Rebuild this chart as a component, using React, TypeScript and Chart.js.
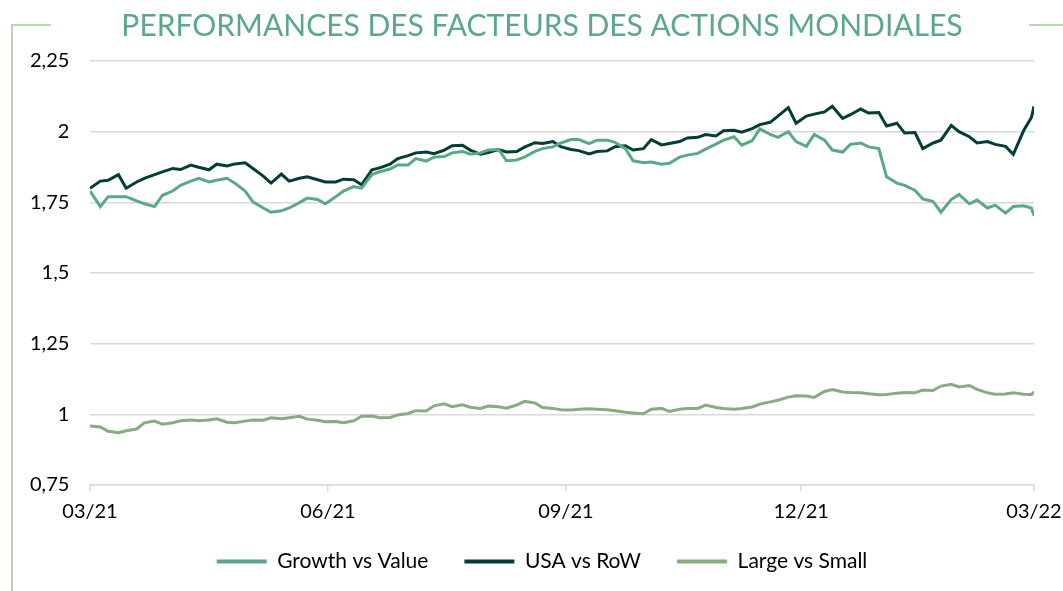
import React, { useEffect, useRef } from 'react';
import { Chart, registerables } from 'chart.js';

Chart.register(...registerables);

const chartTitle = 'PERFORMANCES DES FACTEURS DES ACTIONS MONDIALES';

// day offsets from 01/03/2021
const days = [
  0, 4, 7, 11, 14, 18, 21, 25, 28, 32, 35, 39, 42, 46, 49, 53, 56, 60, 63, 67,
  70, 74, 77, 81, 84, 88, 91, 95, 98, 102, 105, 109, 112, 116, 119, 123, 126, 130, 133, 137,
  140, 144, 147, 151, 154, 158, 161, 165, 168, 172, 175, 179, 182, 186, 189, 193, 196, 200, 203, 207,
  210, 214, 217, 221, 224, 228, 231, 235, 238, 242, 245, 249, 252, 256, 259, 263, 266, 270, 273, 277,
  280, 284, 287, 291, 294, 298, 301, 305, 308, 312, 315, 319, 322, 326, 329, 333, 336, 340, 343, 347,
  350, 354, 357, 361, 364, 365,
];

const growthVsValue = [
  1.79, 1.735, 1.77, 1.77, 1.77, 1.755, 1.745, 1.735, 1.775, 1.79,
  1.81, 1.825, 1.835, 1.822, 1.828, 1.835, 1.818, 1.79, 1.752, 1.73,
  1.715, 1.72, 1.73, 1.749, 1.765, 1.76, 1.745, 1.77, 1.79, 1.806,
  1.8, 1.848, 1.858, 1.868, 1.882, 1.882, 1.905, 1.896, 1.91, 1.912,
  1.925, 1.93, 1.92, 1.925, 1.935, 1.937, 1.897, 1.9, 1.91, 1.93,
  1.94, 1.946, 1.96, 1.972, 1.972, 1.958, 1.97, 1.97, 1.962, 1.94,
  1.897, 1.89, 1.893, 1.885, 1.888, 1.91, 1.917, 1.923, 1.938, 1.956,
  1.97, 1.982, 1.952, 1.968, 2.01, 1.99, 1.98, 2.0, 1.965, 1.948,
  1.99, 1.97, 1.935, 1.928, 1.955, 1.96, 1.946, 1.94, 1.84, 1.818,
  1.81, 1.792, 1.762, 1.753, 1.715, 1.76, 1.778, 1.745, 1.758, 1.73,
  1.74, 1.712, 1.735, 1.738, 1.73, 1.703,
];

const usaVsRow = [
  1.8, 1.825, 1.828, 1.848, 1.8, 1.822, 1.835, 1.848, 1.858, 1.87,
  1.866, 1.882, 1.874, 1.865, 1.885, 1.879, 1.886, 1.89, 1.87, 1.843,
  1.818, 1.85, 1.825, 1.835, 1.84, 1.83, 1.822, 1.822, 1.832, 1.83,
  1.812, 1.865, 1.872, 1.885, 1.905, 1.915, 1.925, 1.928, 1.922, 1.935,
  1.95, 1.952, 1.935, 1.92, 1.926, 1.937, 1.928, 1.93, 1.945, 1.961,
  1.958, 1.965, 1.947, 1.937, 1.933, 1.921, 1.93, 1.932, 1.947, 1.95,
  1.935, 1.94, 1.972, 1.953, 1.958, 1.965, 1.978, 1.98, 1.99, 1.985,
  2.003, 2.005, 1.998, 2.011, 2.025, 2.033, 2.055, 2.085, 2.03, 2.055,
  2.062, 2.07, 2.09, 2.047, 2.06, 2.08, 2.066, 2.068, 2.02, 2.03,
  1.995, 1.997, 1.94, 1.96, 1.97, 2.022, 2.0, 1.982, 1.96, 1.965,
  1.955, 1.948, 1.92, 2.004, 2.05, 2.09,
];

const largeVsSmall = [
  0.959, 0.955, 0.94, 0.935, 0.942, 0.948, 0.97, 0.976, 0.965, 0.97,
  0.977, 0.98, 0.977, 0.98, 0.984, 0.972, 0.97, 0.976, 0.98, 0.979,
  0.988, 0.984, 0.988, 0.993, 0.983, 0.979, 0.974, 0.975, 0.97, 0.977,
  0.993, 0.994, 0.988, 0.989, 0.998, 1.003, 1.013, 1.012, 1.03, 1.037,
  1.027, 1.034, 1.025, 1.021, 1.029, 1.027, 1.022, 1.033, 1.046, 1.04,
  1.024, 1.021, 1.016, 1.015, 1.018, 1.02, 1.018, 1.016, 1.013, 1.007,
  1.005, 1.002, 1.018, 1.021, 1.01, 1.018, 1.021, 1.021, 1.033, 1.024,
  1.021, 1.018, 1.021, 1.026, 1.036, 1.044, 1.05, 1.061, 1.066, 1.065,
  1.06, 1.081, 1.088, 1.079, 1.077, 1.076, 1.073, 1.069, 1.07, 1.075,
  1.077, 1.076, 1.086, 1.084, 1.1, 1.106, 1.097, 1.102, 1.088, 1.076,
  1.071, 1.072, 1.076, 1.071, 1.07, 1.08,
];

const seriesNames = ['Growth vs Value', 'USA vs RoW', 'Large vs Small'];
const seriesColors = ['#5AA888', '#033D38', '#88AC80'];

const xTickDays = [0, 92, 184, 275, 365];
const xTickLabels = ['03/21', '06/21', '09/21', '12/21', '03/22'];
const yTickValues = [0.75, 1, 1.25, 1.5, 1.75, 2, 2.25];
const yTickLabels = ['0,75', '1', '1,25', '1,5', '1,75', '2', '2,25'];

const framePlugin = {
  id: 'frameDecor',
  beforeDraw(chart: any) {
    const ctx = chart.ctx;
    ctx.save();
    ctx.strokeStyle = '#B9D5B3';
    ctx.lineWidth = 2;
    ctx.beginPath();
    ctx.moveTo(51, 25);
    ctx.lineTo(12, 25);
    ctx.lineTo(12, 595);
    ctx.moveTo(1029, 25);
    ctx.lineTo(1066, 25);
    ctx.stroke();
    ctx.restore();
  },
};

export default function App() {
  const canvasRef = useRef<HTMLCanvasElement | null>(null);

  useEffect(() => {
    const canvas = canvasRef.current;
    if (!canvas) return;
    const allSeries = [growthVsValue, usaVsRow, largeVsSmall];
    const chart = new Chart(canvas, {
      type: 'line',
      data: {
        datasets: allSeries.map((vals, k) => ({
          label: seriesNames[k],
          data: vals.map((v, i) => ({ x: days[i], y: v })),
          borderColor: seriesColors[k],
          backgroundColor: seriesColors[k],
          borderWidth: 3,
          pointRadius: 0,
          tension: 0,
          fill: false,
        })),
      },
      options: {
        responsive: false,
        animation: false,
        devicePixelRatio: 1,
        font: { family: 'Lato' },
        layout: { padding: { left: 50, right: 29, top: 0, bottom: 9 } },
        scales: {
          x: {
            type: 'linear',
            min: 0,
            max: 365,
            afterBuildTicks: (scale: any) => {
              scale.ticks = xTickDays.map((v) => ({ value: v }));
            },
            afterFit: (scale: any) => {
              scale.height = 30;
              scale.paddingLeft = 0;
              scale.paddingRight = 0;
            },
            ticks: {
              mirror: true,
              autoSkip: false,
              maxRotation: 0,
              padding: -39,
              color: '#000',
              font: { family: 'Lato', size: 20 },
              callback: (_v: any, i: number) => xTickLabels[i],
            },
            grid: {
              drawOnChartArea: false,
              drawTicks: true,
              tickLength: 6,
              color: '#D9D9D9',
              lineWidth: 1.5,
            },
            border: { display: true, color: '#D9D9D9', width: 1.5 },
          },
          y: {
            type: 'linear',
            min: 0.75,
            max: 2.25,
            afterBuildTicks: (scale: any) => {
              scale.ticks = yTickValues.map((v) => ({ value: v }));
            },
            afterFit: (scale: any) => {
              scale.width = 40;
            },
            ticks: {
              mirror: true,
              crossAlign: 'far',
              padding: -60,
              color: '#000',
              font: { family: 'Lato', size: 20 },
              callback: (_v: any, i: number) => yTickLabels[i],
            },
            grid: { color: '#D9D9D9', lineWidth: 1.5, drawTicks: false },
            border: { display: false },
          },
        },
        plugins: {
          title: {
            display: true,
            text: chartTitle,
            color: '#5AA888',
            font: { family: 'Lato', size: 30, weight: 'normal' },
            padding: { top: 8, bottom: 17 },
          },
          legend: {
            display: true,
            position: 'bottom',
            labels: {
              color: '#000',
              font: { family: 'Lato', size: 21 },
              boxWidth: 50,
              boxHeight: 4,
              padding: 36,
              generateLabels: (c: any) =>
                Chart.defaults.plugins.legend.labels
                  .generateLabels(c)
                  .map((l: any) => ({ ...l, lineWidth: 0 })),
            },
          },
          tooltip: { enabled: false },
        },
      },
      plugins: [framePlugin],
    });
    return () => chart.destroy();
  }, []);

  return (
    <div style={{ position: 'absolute', left: 0, top: 0, width: 1063, height: 591, background: '#fff' }}>
      <canvas ref={canvasRef} width={1063} height={591} style={{ display: 'block' }} />
    </div>
  );
}
